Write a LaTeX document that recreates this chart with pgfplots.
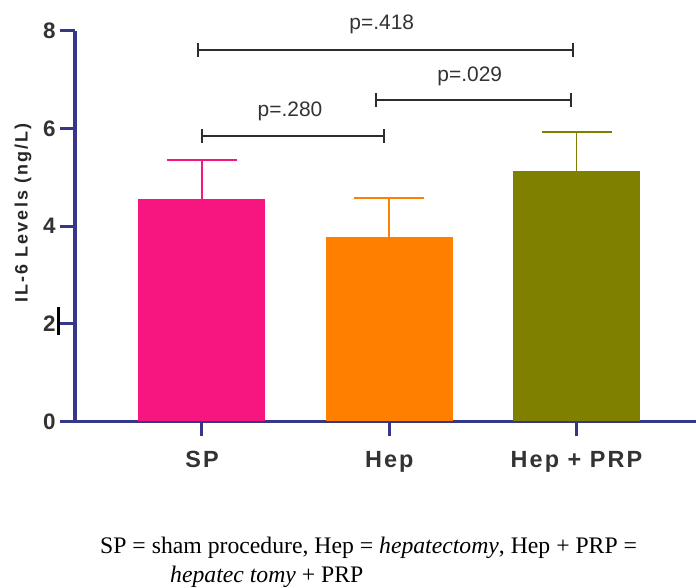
\documentclass[border=0pt]{standalone}
\usepackage{pgfplots}
\pgfplotsset{compat=1.18}
\usepackage{fontspec}
\setmainfont{Liberation Sans}
\newfontfamily\capfont{Liberation Serif}
\newfontfamily\spaced[LetterSpace=9]{Liberation Sans}
\newfontfamily\spacedlab[LetterSpace=12]{Liberation Sans}
\definecolor{axisblue}{RGB}{55,55,135}
\definecolor{cpink}{RGB}{247,22,127}
\definecolor{corange}{RGB}{255,128,0}
\definecolor{colive}{RGB}{128,128,0}
\definecolor{brk}{RGB}{45,45,45}
\begin{document}
\begin{tikzpicture}
\useasboundingbox (0bp,0bp) rectangle (696bp,588bp);
\begin{axis}[
 at={(75bp,166.5bp)}, anchor=south west,
 width=621bp, height=390.8bp, scale only axis,
 xmin=-0.678, xmax=2.638, ymin=0, ymax=8,
 axis x line*=bottom, axis y line*=left,
 axis line style={axisblue, line width=3bp, -},
 xtick={0,1,2}, xticklabels={SP,Hep,Hep + PRP},
 ytick={0,2,4,6,8},
 tick align=outside, major tick length=15bp,
 tick style={axisblue, line width=3bp},
 yticklabel style={font=\bfseries\fontsize{22.5}{22.5}\selectfont, text=black!80, xshift=-1bp},
 xticklabel style={font=\spaced\bfseries\fontsize{23.5}{23.5}\selectfont, text=black!80, yshift=-11bp},
 /pgf/number format/assume math mode=true,
 clip=false,
]
\addplot[ybar, bar width=0.678, bar shift=0, fill=cpink, draw=none,
  error bars/.cd, y dir=plus, y explicit,
  error bar style={cpink, line width=1.5bp},
  error mark options={cpink, rotate=90, mark size=35bp, line width=1.5bp}]
  coordinates {(0,4.55) +- (0,0.80)};
\addplot[ybar, bar width=0.678, bar shift=0, fill=corange, draw=none,
  error bars/.cd, y dir=plus, y explicit,
  error bar style={corange, line width=1.5bp},
  error mark options={corange, rotate=90, mark size=35bp, line width=1.5bp}]
  coordinates {(1,3.78) +- (0,0.80)};
\addplot[ybar, bar width=0.678, bar shift=0, fill=colive, draw=none,
  error bars/.cd, y dir=plus, y explicit,
  error bar style={colive, line width=1.5bp},
  error mark options={colive, rotate=90, mark size=35bp, line width=1.5bp}]
  coordinates {(2,5.13) +- (0,0.80)};
% significance brackets
\addplot[brk, line width=2bp, mark=|, mark size=7bp, mark options={solid, line width=2bp}]
  coordinates {(0,5.84) (0.97,5.84)};
\addplot[brk, line width=2bp, mark=|, mark size=7bp, mark options={solid, line width=2bp}]
  coordinates {(0.93,6.58) (1.97,6.58)};
\addplot[brk, line width=2bp, mark=|, mark size=7bp, mark options={solid, line width=2bp}]
  coordinates {(-0.02,7.61) (1.98,7.61)};
\node[font=\fontsize{21}{21}\selectfont, text=black!80] at (axis cs:0.47,6.34) {p=.280};
\node[font=\fontsize{21}{21}\selectfont, text=black!80] at (axis cs:1.43,7.07) {p=.029};
\node[font=\fontsize{21}{21}\selectfont, text=black!80] at (axis cs:0.96,8.12) {p=.418};
\draw[black, line width=3bp] (axis cs:-0.764,1.77) -- (axis cs:-0.764,2.34);
\end{axis}
\node[rotate=90, font=\spacedlab\bfseries\fontsize{18}{18}\selectfont, text=black!85] at (23bp,375bp) {IL-6 Levels (ng/L)};
\node[anchor=west, inner sep=0, font=\capfont\fontsize{23.8}{24}\selectfont] at (100bp,40bp) {SP = sham procedure, Hep = \textit{hepatectomy}, Hep + PRP =};
\node[anchor=west, inner sep=0, font=\capfont\fontsize{23.8}{24}\selectfont] at (170bp,11bp) {\textit{hepatec tomy} + PRP};
\end{tikzpicture}
\end{document}
